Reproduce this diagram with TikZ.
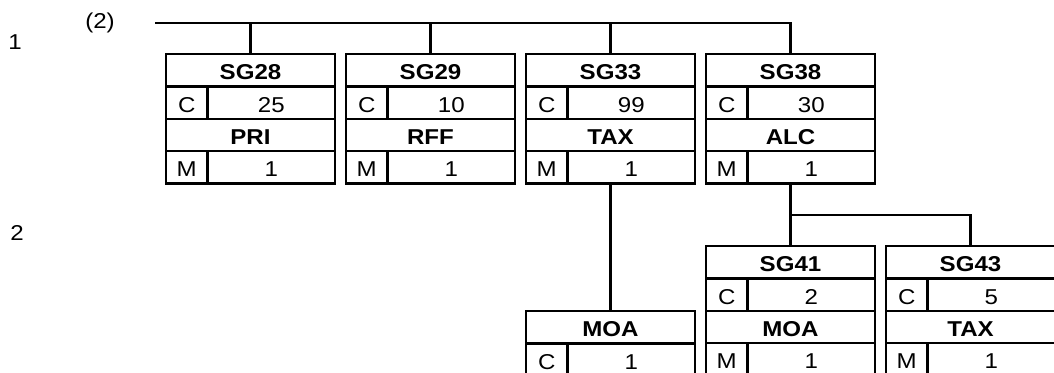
\documentclass[tikz,border=0pt]{standalone}
\usepackage{fontspec}
\setmainfont{Liberation Sans}[FakeStretch=1.12]
\usetikzlibrary{calc}
\tikzset{
  cell/.style={draw,line width=2.4pt,inner sep=0pt,outer sep=0pt,anchor=north west,
    minimum height=32.4pt,text height=19pt,text depth=0pt},
  grp/.style={cell,minimum width=169pt,font=\fontsize{21.5}{25}\selectfont\bfseries},
  seg/.style={cell,minimum width=169pt,font=\fontsize{21.5}{25}\selectfont\bfseries},
  stat/.style={cell,minimum width=41.5pt},
  rep/.style={cell,minimum width=127.5pt},
  link/.style={draw,line width=2.4pt},
  lvl/.style={inner sep=0pt},
}

\begin{document}
\begin{tikzpicture}[x=1pt,y=-1pt,font=\fontsize{21.5}{25}\selectfont]
  \useasboundingbox (0,0) rectangle (1054,372);

  % level marks on the left
  \node[lvl] (lvl1) at (15,42) {1};
  \node[lvl] (lvl2) at (17,233) {2};
  \node[lvl] (rep2) at (100,23) {(2)};

  % segment groups: group name, status, repeat, trigger segment, status, repeat
  \foreach \x/\y/\grp/\gst/\grep/\seg/\sst/\srep in {
      166/54/SG28/C/25/PRI/M/1, 346/54/SG29/C/10/RFF/M/1,
      526/54/SG33/C/99/TAX/M/1, 706/54/SG38/C/30/ALC/M/1,
      706/246/SG41/C/2/MOA/M/1, 886/246/SG43/C/5/TAX/M/1} {
    \node[grp] (\grp) at (\x,\y) {\grp};
    \node[stat] (\grp-st) at (\grp.south west) {\gst};
    \node[rep] (\grp-rep) at (\grp-st.north east) {\grep};
    \node[seg] (\grp-seg) at (\grp-st.south west) {\seg};
    \node[stat] (\grp-sst) at (\grp-seg.south west) {\sst};
    \node[rep] (\grp-srep) at (\grp-sst.north east) {\srep};
  }

  % single segment under SG33
  \node[seg] (MOA) at (526,311) {MOA};
  \node[stat] (MOA-st) at (MOA.south west) {C};
  \node[rep] (MOA-rep) at (MOA-st.north east) {1};

  % branching lines
  \coordinate (root) at (155,23);
  \draw[link] (root) -| (SG38.north);
  \foreach \g in {SG28,SG29,SG33}
    \draw[link] (\g.north) -- (\g.north |- root);
  \draw[link] (SG33.north |- SG33-sst.south) -- (MOA.north);
  \draw[link] (SG38.north |- SG38-sst.south) -- (SG41.north);
  \coordinate (fork) at (790,215);
  \draw[link] (fork) -| (SG43.north);
\end{tikzpicture}
\end{document}
